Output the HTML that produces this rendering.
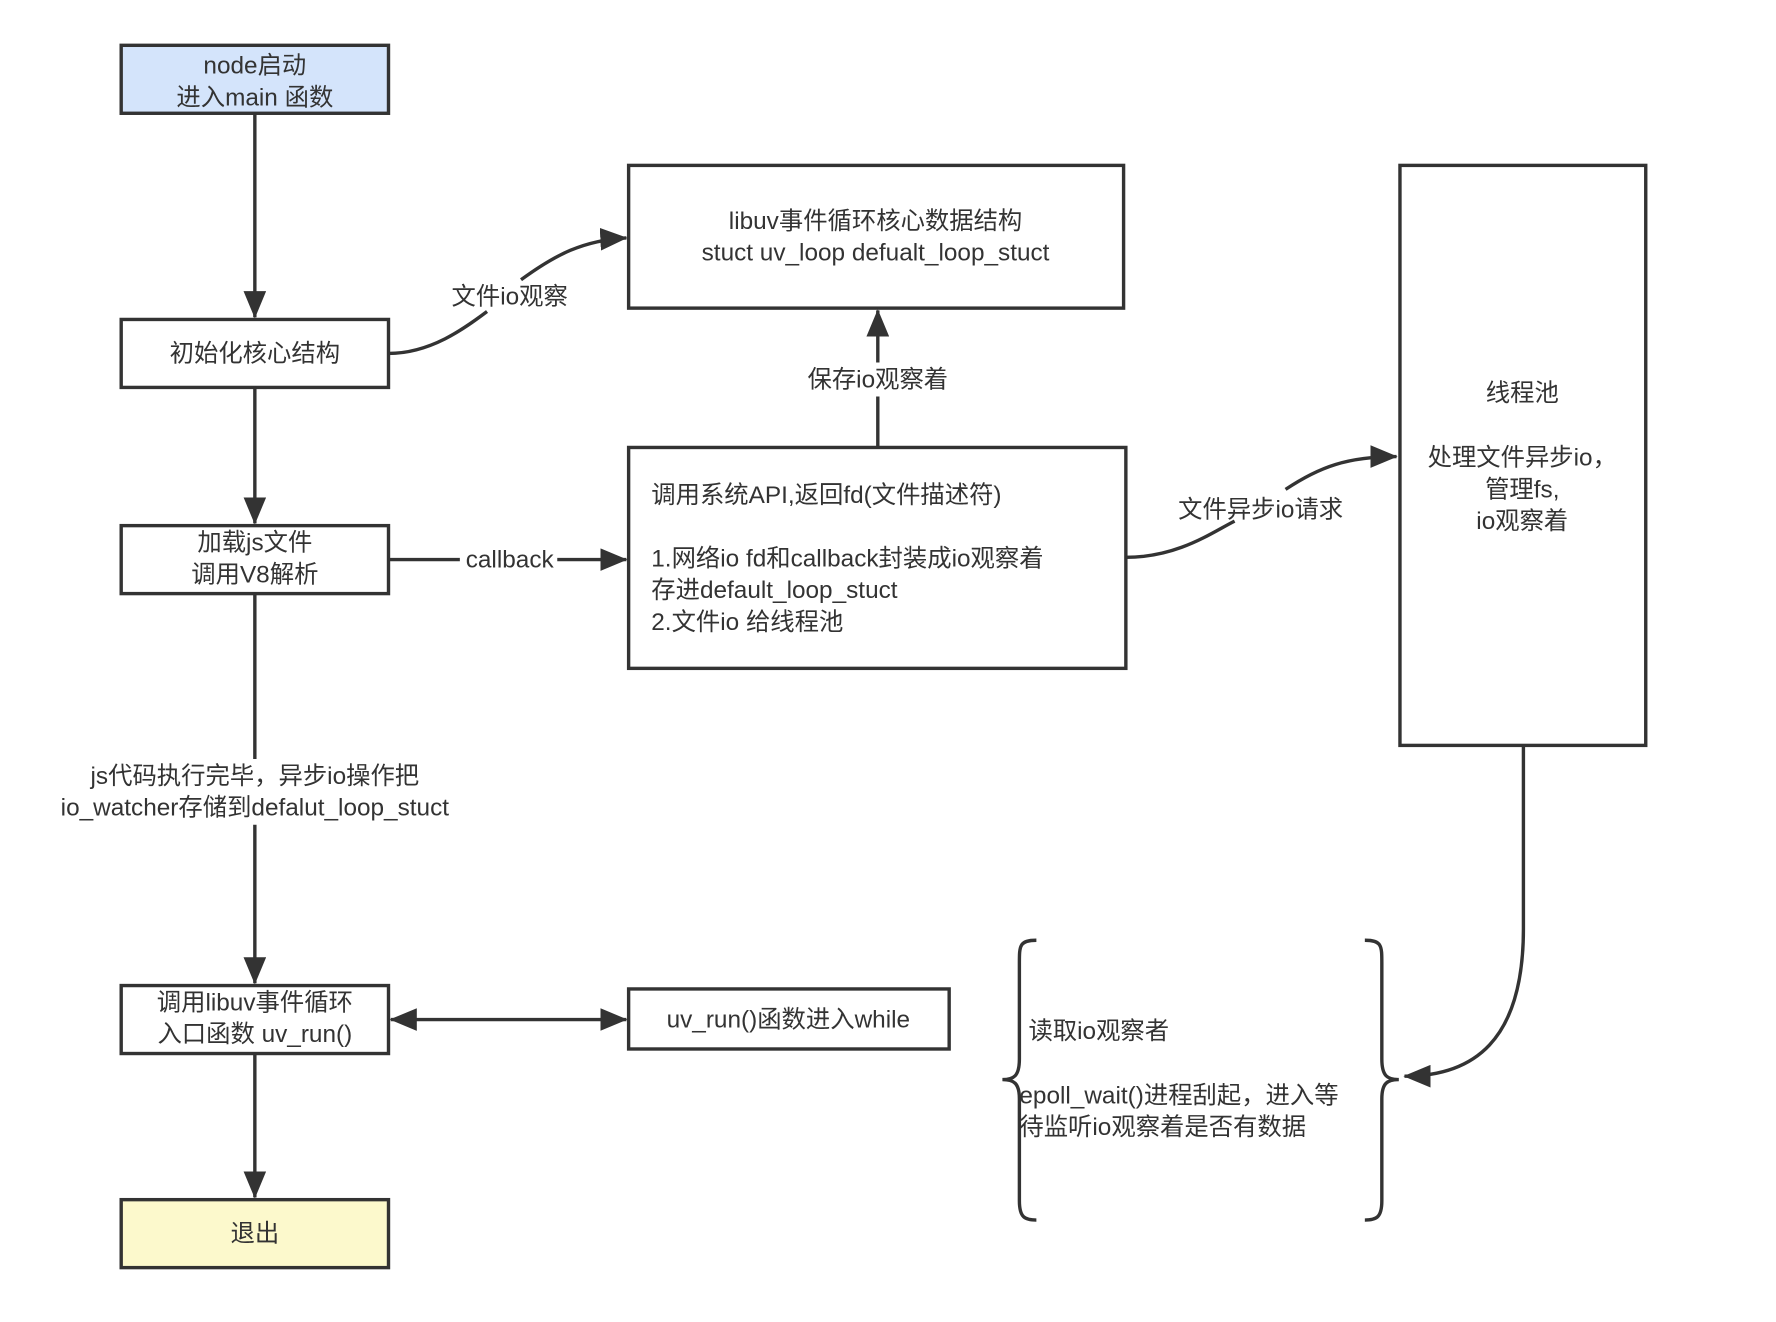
<!DOCTYPE html>
<html><head><meta charset="utf-8"><style>
html,body{margin:0;padding:0;background:#fff;}
svg{display:block;}
text{font-family:"Liberation Sans","Noto Sans CJK SC",sans-serif;font-size:21.5px;fill:#333;}
</style></head><body>
<svg width="1776" height="1322" viewBox="0 0 1568 1167" preserveAspectRatio="none" xmlns="http://www.w3.org/2000/svg">
<defs>
<marker id="b" viewBox="0 0 24 20" markerWidth="24" markerHeight="20" refX="23" refY="10" orient="auto-start-reverse" markerUnits="userSpaceOnUse">
<path d="M0,0 L24,10 L0,20 z" fill="#333"/></marker>
</defs>
<g stroke="#333" stroke-width="3" fill="none">
<rect x="107" y="40" width="236" height="60" fill="#d4e4fb"/>
<rect x="107" y="282" width="236" height="60" fill="#fff"/>
<rect x="107" y="464" width="236" height="60" fill="#fff"/>
<rect x="107" y="870" width="236" height="60" fill="#fff"/>
<rect x="107" y="1059" width="236" height="60" fill="#fcf9cc"/>
<rect x="555" y="146" width="437" height="126" fill="#fff"/>
<rect x="555" y="395" width="439" height="195" fill="#fff"/>
<rect x="1236" y="146" width="217" height="512" fill="#fff"/>
<rect x="555" y="873" width="283" height="53" fill="#fff"/>
<line x1="225" y1="100" x2="225" y2="280" marker-end="url(#b)"/>
<line x1="225" y1="342" x2="225" y2="462" marker-end="url(#b)"/>
<line x1="225" y1="524" x2="225" y2="670"/>
<line x1="225" y1="728" x2="225" y2="868" marker-end="url(#b)"/>
<line x1="225" y1="930" x2="225" y2="1057" marker-end="url(#b)"/>
<line x1="343" y1="494" x2="406" y2="494"/>
<line x1="492" y1="494" x2="553" y2="494" marker-end="url(#b)"/>
<line x1="775" y1="395" x2="775" y2="350"/>
<line x1="775" y1="320" x2="775" y2="274" marker-end="url(#b)"/>
<line x1="345" y1="900" x2="553" y2="900" marker-start="url(#b)" marker-end="url(#b)"/>
<path d="M343,312 C380,312 410,290 430,275"/>
<path d="M460,247 C490,225 515,212 553,210" marker-end="url(#b)"/>
<path d="M994,492 C1040,492 1070,470 1090,460"/>
<path d="M1135,432 C1165,412 1190,403 1233,403" marker-end="url(#b)"/>
<path d="M1345,658 L1345,820 C1345,920 1300,950 1240,950" marker-end="url(#b)"/>
<path d="M915,830 C900,830 900,835 900,850 L900,935 C900,950 895,953 885,953 C895,953 900,956 900,970 L900,1060 C900,1075 905,1077 915,1077"/>
<path d="M1205,830 C1220,830 1220,835 1220,850 L1220,935 C1220,950 1225,953 1235,953 C1225,953 1220,956 1220,970 L1220,1060 C1220,1075 1215,1077 1205,1077"/>
</g>
<g text-anchor="middle">
<text x="225" y="65">node启动</text>
<text x="225" y="93">进入main 函数</text>
<text x="225" y="319">初始化核心结构</text>
<text x="225" y="486">加载js文件</text>
<text x="225" y="514">调用V8解析</text>
<text x="225" y="692">js代码执行完毕，异步io操作把</text>
<text x="225" y="720">io_watcher存储到defalut_loop_stuct</text>
<text x="225" y="892">调用libuv事件循环</text>
<text x="225" y="920">入口函数 uv_run()</text>
<text x="225" y="1096">退出</text>
<text x="773" y="202">libuv事件循环核心数据结构</text>
<text x="773" y="230">stuct uv_loop defualt_loop_stuct</text>
<text x="450" y="269">文件io观察</text>
<text x="450" y="501">callback</text>
<text x="775" y="342">保存io观察着</text>
<text x="1113" y="457">文件异步io请求</text>
<text x="1344" y="354">线程池</text>
<text x="1344" y="411">处理文件异步io，</text>
<text x="1344" y="439">管理fs,</text>
<text x="1344" y="467">io观察着</text>
<text x="696" y="907">uv_run()函数进入while</text>
</g>
<text x="575" y="444">调用系统API,返回fd(文件描述符)</text>
<text x="575" y="500">1.网络io fd和callback封装成io观察着</text>
<text x="575" y="528">存进default_loop_stuct</text>
<text x="575" y="556">2.文件io 给线程池</text>
<text x="908" y="917">读取io观察者</text>
<text x="900" y="974">epoll_wait()进程刮起，进入等</text>
<text x="900" y="1002">待监听io观察着是否有数据</text>
</svg>
</body></html>
